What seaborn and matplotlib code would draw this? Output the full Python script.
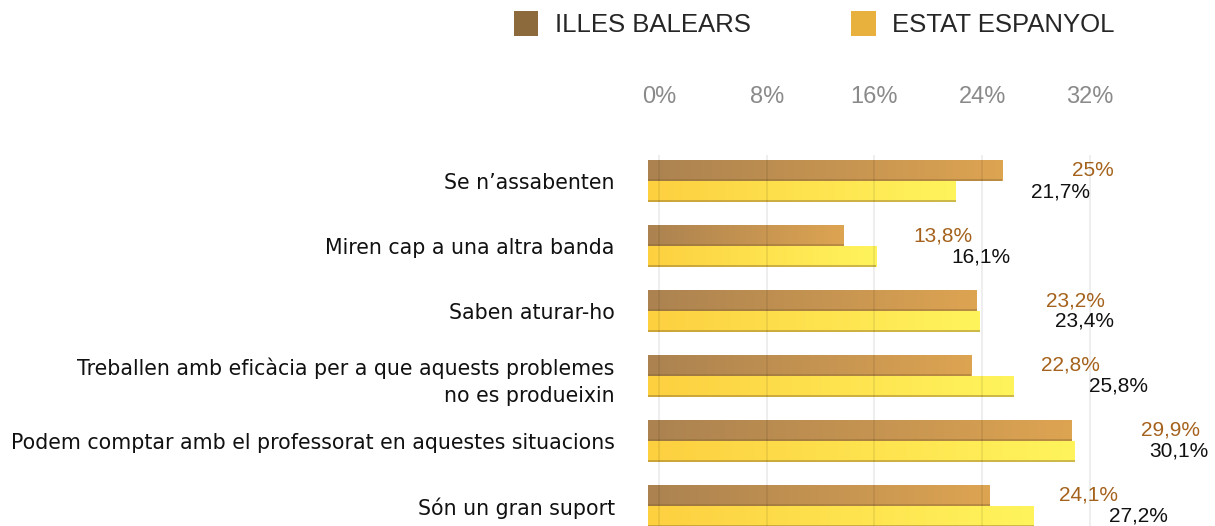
import numpy as np
import pandas as pd
import matplotlib
matplotlib.use('Agg')
import matplotlib.pyplot as plt
from matplotlib.colors import LinearSegmentedColormap
from matplotlib.patches import Patch
import seaborn as sns

# data
categories = [
    "Se n\u2019assabenten",
    "Miren cap a una altra banda",
    "Saben aturar-ho",
    "Treballen amb efic\u00e0cia per a que aquests problemes\nno es produeixin",
    "Podem comptar amb el professorat en aquestes situacions",
    "S\u00f3n un gran suport",
]
balears = [25.0, 13.8, 23.2, 22.8, 29.9, 24.1]
espanya = [21.7, 16.1, 23.4, 25.8, 30.1, 27.2]
series_names = ["ILLES BALEARS", "ESTAT ESPANYOL"]
xticks = [0, 8, 16, 24, 32]

df = pd.DataFrame({
    'cat': categories * 2,
    'serie': [series_names[0]] * len(categories) + [series_names[1]] * len(categories),
    'val': balears + espanya,
})

sns.set_style('white')
plt.rcParams['font.family'] = ['Liberation Sans', 'DejaVu Sans']

fig = plt.figure(figsize=(12.15, 5.26), dpi=100)
ax = fig.add_axes([0.5333, 0.0, 0.4667, 0.7053])

legend_cols = ['#8c6a3c', '#e8b03c']
grad_cols = {
    series_names[0]: ['#ab8250', '#dda452'],
    series_names[1]: ['#fdd040', '#fff45c'],
}
label_cols = {series_names[0]: '#a5621c', series_names[1]: '#111111'}
label_pad = {series_names[0]: 50, series_names[1]: 54}

sns.barplot(data=df, y='cat', x='val', hue='serie', orient='h',
            palette=legend_cols, width=0.646, ax=ax, legend=False,
            saturation=1, errorbar=None)

ax.set_xlim(0, 40)
ax.set_ylim(5.308, -0.4)

# gradient fill on every bar
n = len(categories)
grad = np.linspace(0, 1, 256).reshape(1, -1)
for i, bar in enumerate(ax.patches[:2 * n]):
    name = series_names[i // n]
    cmap = LinearSegmentedColormap.from_list(name, grad_cols[name])
    x0, y0 = bar.get_x(), bar.get_y()
    w, h = bar.get_width(), bar.get_height()
    bar.set_facecolor('none')
    bar.set_edgecolor('none')
    im = ax.imshow(grad, cmap=cmap, aspect='auto', zorder=2,
                   extent=[x0, x0 + w, y0 + h, y0], interpolation='bilinear')
    im.set_clip_path(bar)
    # darker rim at the bottom edge for the 3d look
    ax.plot([x0, x0 + w], [y0 + h * 0.97, y0 + h * 0.97], color='#8a6a30',
            lw=1.2, alpha=0.5, zorder=3, solid_capstyle='butt')
    txt = f"{w:.1f}".replace('.0', '').replace('.', ',') + '%'
    ax.annotate(txt, xy=(x0 + w, y0 + h / 2), xytext=(label_pad[name], 0),
                textcoords='offset points', ha='left', va='center',
                fontsize=15, color=label_cols[name], zorder=4)

ax.set_xticks([])
ax.tick_params(axis='y', length=0, pad=24)
for lab in ax.get_yticklabels():
    lab.set_fontfamily('DejaVu Sans')
    lab.set_fontsize(14.8)
    lab.set_color('#111111')
    lab.set_multialignment('right')
    lab.set_linespacing(1.45)
ax.set_xlabel('')
ax.set_ylabel('')
for s in ax.spines.values():
    s.set_visible(False)

# the back wall with the percent grid sits a bit offset from the bars (3d look)
ax2 = ax.twiny()
ax2.set_xlim(-0.82, 41.3)
ax2.set_xticks(xticks)
ax2.set_xticklabels([f"{t}%" for t in xticks], fontsize=17, color='#8a8a8a')
ax2.xaxis.tick_top()
ax2.tick_params(axis='x', length=0, pad=34)
ax2.grid(axis='x', color='black', alpha=0.08, lw=1.2)
for s in ax2.spines.values():
    s.set_visible(False)

handles = [Patch(facecolor=c, edgecolor='none') for c in legend_cols]
fig.legend(handles, series_names, loc='upper left', bbox_to_anchor=(0.404, 1.023),
           ncol=2, frameon=False, fontsize=18.5, handlelength=0.95, handleheight=1.1,
           handletextpad=0.65, columnspacing=3.9)

fig.savefig('out.png', dpi=100)
